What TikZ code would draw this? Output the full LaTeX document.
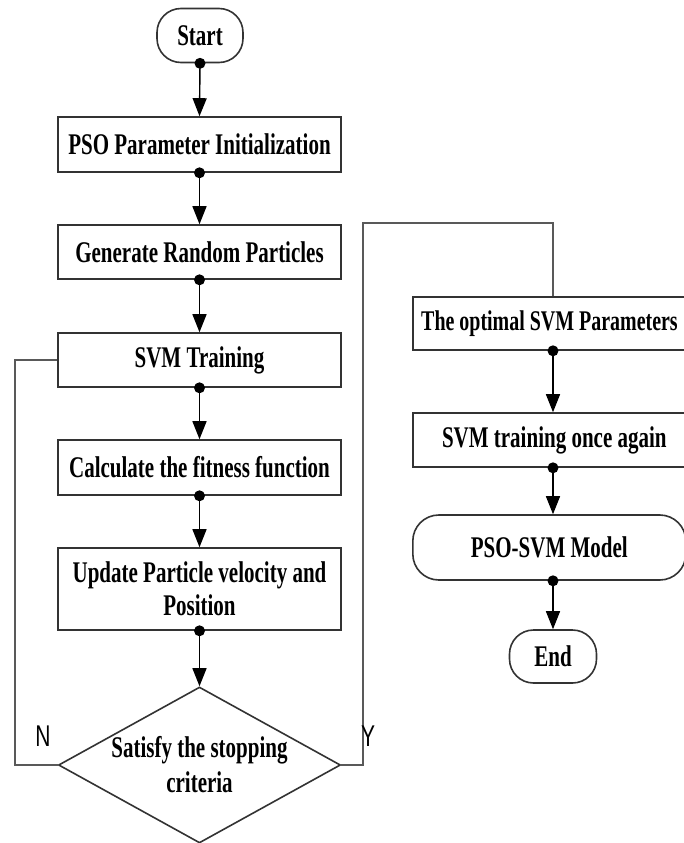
\documentclass[tikz,border=0pt]{standalone}
\usepackage{fontspec}
\setmainfont{Liberation Serif}
\newfontfamily\boxfont[FakeStretch=0.7]{Liberation Serif}
\newfontfamily\lblfont[FakeStretch=0.7]{Liberation Sans}
\usetikzlibrary{shapes.geometric,arrows.meta}
\begin{document}
\begin{tikzpicture}[x=1pt,y=-1pt,
  every node/.style={font=\boxfont\bfseries\fontsize{30}{34}\selectfont, align=center, inner sep=0pt},
  procbox/.style={draw=black!80, line width=1.6pt, minimum width=283pt, minimum height=#1},
  procbox/.default=54pt,
  termbox/.style={draw=black!80, line width=1.6pt, rounded corners=24pt, minimum width=#1, minimum height=54pt},
  decbox/.style={draw=black!80, line width=1.6pt, shape=diamond, minimum width=282pt, minimum height=156pt},
  flow/.style={draw=black, line width=1.4pt, -{Triangle[length=18pt,width=14pt]}},
  loopline/.style={draw=black!65, line width=1.6pt},
  dotmark/.style={fill=black, circle, minimum size=11pt, inner sep=0pt},
  yn/.style={font=\lblfont\fontsize{30}{32}\selectfont}
]
\useasboundingbox (0,0) rectangle (684,843);
\fill[white] (0,0) rectangle (684,843);

\node[termbox=86pt] (start) at (200,35.5) {Start};
\node[procbox=55pt] (init) at (199.5,144.5) {PSO Parameter Initialization};
\node[procbox] (gen) at (199.5,252) {Generate Random Particles};
\node[procbox] (train) at (199.5,360) {SVM Training};
\node[procbox=55pt] (fit) at (199.5,467.5) {Calculate the fitness function};
\node[procbox=82pt] (upd) at (199.5,589) {Update Particle velocity and\\[-1pt]Position};
\node[decbox] (dec) at (199.5,765) {};
\node (dectext) at (dec.center) {Satisfy the stopping\\[1pt]criteria};

\node[procbox=53pt, anchor=west] (opt) at (412,323.5) {};
\node[anchor=west, font=\boxfont\bfseries\fontsize{28.5}{32}\selectfont] (opttext) at (421,323.5) {The optimal SVM Parameters};
\node[procbox, anchor=west] (again) at (412,440) {SVM training once again};
\node[termbox=273pt, minimum height=65pt, anchor=west, rounded corners=26pt] (model) at (412,547.5) {PSO-SVM Model};
\node[termbox=87pt, minimum height=53pt] (end) at (553,656.5) {End};

\coordinate (nleft) at (15,765);
\coordinate (nup) at (15,360);
\coordinate (yright) at (363,765);
\coordinate (yup) at (363,223);
\coordinate (ytop) at (553,223);

\path[flow] (start.south) -- (init.north);
\path[flow] (init.south) -- (gen.north);
\path[flow] (gen.south) -- (train.north);
\path[flow] (train.south) -- (fit.north);
\path[flow] (fit.south) -- (upd.north);
\path[flow] (upd.south) -- (dec.north);
\path[flow] (opt.south -| ytop) -- (again.north -| ytop);
\path[flow] (again.south -| ytop) -- (model.north -| ytop);
\path[flow] (model.south -| ytop) -- (end.north);

\path[loopline] (dec.west) -- (nleft) -- (nup) -- (train.west);
\path[loopline] (dec.east) -- (yright) -- (yup) -- (ytop) -- (opt.north -| ytop);

\foreach \n in {start,init,gen,train,fit,upd}
  \node[dotmark] at (\n.south) {};
\node[dotmark] at (opt.south -| ytop) {};
\node[dotmark] at (again.south -| ytop) {};
\node[dotmark] at (model.south -| ytop) {};

\node[yn] (nlab) at (43,736) {N};
\node[yn] (ylab) at (368,736) {Y};
\end{tikzpicture}
\end{document}
